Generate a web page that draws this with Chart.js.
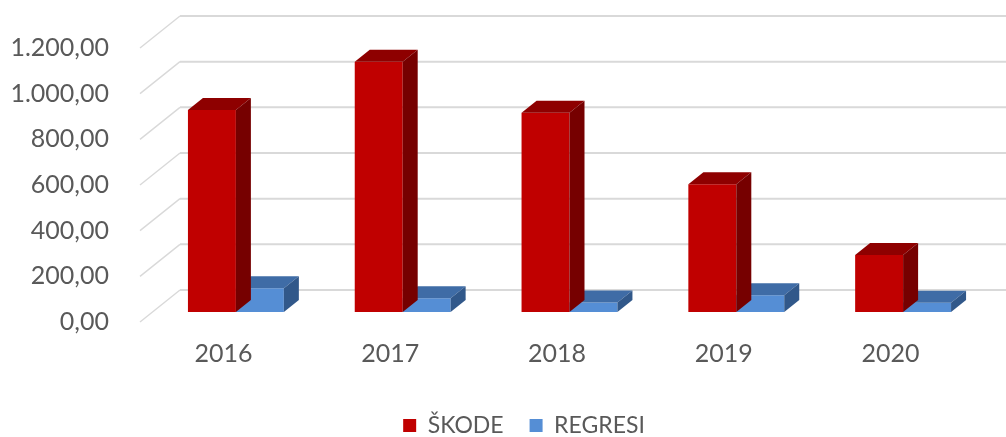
<!DOCTYPE html>
<html>
<head>
<meta charset="utf-8">
<script src="https://cdn.jsdelivr.net/npm/chart.js@4.4.1/dist/chart.umd.min.js"></script>
<style>
  html, body { margin: 0; padding: 0; background: #ffffff; }
  #wrap { width: 1006px; height: 437px; }
</style>
</head>
<body>
<div id="wrap"><canvas id="chart" width="1006" height="437"></canvas></div>
<script>
// Yearly totals
const years = ['2016', '2017', '2018', '2019', '2020'];
const skode = [885, 1096, 873, 560, 250];
const regresi = [104, 60, 42, 73, 41];
const yTicks = [0, 200, 400, 600, 800, 1000, 1200];

const seriesNames = ['ŠKODE', 'REGRESI'];
const frontColors = ['#C00000', '#558ED5'];
const topColors = ['#8E0000', '#3F6CA6'];
const sideColors = ['#760000', '#31588A'];

// Oblique projection: depth direction of the floor / back wall
const WALL_DX = 40, WALL_DY = 32;     // full floor depth
const BAR_Z = 10;                     // bars start this far into the floor
const BAR_DX = 15, BAR_DY = 12;       // bar thickness in depth
const LEGEND_SHIFT = 37;              // legend sits centred under the plot

function fmt(v) {
  const int = Math.floor(Math.abs(v)).toString().replace(/\B(?=(\d{3})+(?!\d))/g, '.');
  const dec = Math.round((Math.abs(v) % 1) * 100).toString().padStart(2, '0');
  return (v < 0 ? '-' : '') + int + ',' + dec;
}

const axisFont = { family: 'Lato', size: 25 };
const gray = '#595959';

const threeD = {
  id: 'threeD',
  afterLayout(chart) {
    const lg = chart.legend;
    if (lg) { lg.left += LEGEND_SHIFT; lg.right += LEGEND_SHIFT; }
  },
  beforeDatasetsDraw(chart) {
    const ctx = chart.ctx;
    const y = chart.scales.y;
    const left = chart.chartArea.left;
    ctx.save();
    ctx.strokeStyle = '#D9D9D9';
    yTicks.forEach(v => {
      const py = y.getPixelForValue(v);
      ctx.lineWidth = 1.5;
      ctx.beginPath();
      ctx.moveTo(left, py);
      ctx.lineTo(left + WALL_DX, py - WALL_DY);
      ctx.stroke();
      ctx.lineWidth = 2;
      ctx.beginPath();
      ctx.moveTo(left + WALL_DX, py - WALL_DY);
      ctx.lineTo(chart.width, py - WALL_DY);
      ctx.stroke();
    });
    ctx.restore();
  },
  beforeDatasetDraw(chart) {
    chart.ctx.save();
    chart.ctx.translate(BAR_Z * WALL_DX / WALL_DY, -BAR_Z);
  },
  afterDatasetDraw(chart, args) {
    const ctx = chart.ctx;
    const i = args.index;
    const meta = chart.getDatasetMeta(i);
    meta.data.forEach(bar => {
      const p = bar.getProps(['x', 'y', 'base', 'width'], true);
      const xl = p.x - p.width / 2, xr = p.x + p.width / 2;
      const yt = Math.min(p.y, p.base), yb = Math.max(p.y, p.base);
      // top face
      ctx.fillStyle = topColors[i];
      ctx.beginPath();
      ctx.moveTo(xl, yt);
      ctx.lineTo(xr, yt);
      ctx.lineTo(xr + BAR_DX, yt - BAR_DY);
      ctx.lineTo(xl + BAR_DX, yt - BAR_DY);
      ctx.closePath();
      ctx.fill();
      // right side face
      ctx.fillStyle = sideColors[i];
      ctx.beginPath();
      ctx.moveTo(xr, yt);
      ctx.lineTo(xr + BAR_DX, yt - BAR_DY);
      ctx.lineTo(xr + BAR_DX, yb - BAR_DY);
      ctx.lineTo(xr, yb);
      ctx.closePath();
      ctx.fill();
    });
    ctx.restore();
  }
};

new Chart(document.getElementById('chart'), {
  type: 'bar',
  data: {
    labels: years,
    datasets: [
      { label: seriesNames[0], data: skode, backgroundColor: frontColors[0], borderWidth: 0 },
      { label: seriesNames[1], data: regresi, backgroundColor: frontColors[1], borderWidth: 0 }
    ]
  },
  options: {
    responsive: false,
    animation: false,
    events: [],
    layout: { padding: { left: 0, right: 32, top: 48, bottom: -10 } },
    datasets: { bar: { categoryPercentage: 0.575, barPercentage: 1.0, clip: false } },
    scales: {
      x: {
        grid: { display: false, drawTicks: false },
        border: { display: false },
        ticks: { color: gray, font: axisFont, padding: 17 },
        afterFit(s) { s.height = 66; }
      },
      y: {
        min: 0,
        max: 1200,
        afterBuildTicks(s) { s.ticks = yTicks.map(v => ({ value: v })); },
        grid: { display: false, drawTicks: false },
        border: { display: false },
        ticks: { color: gray, font: axisFont, padding: 31, callback: v => fmt(v) },
        afterFit(s) { s.width = 140; }
      }
    },
    plugins: {
      legend: {
        position: 'bottom',
        labels: {
          color: gray,
          font: { family: 'Lato', size: 23 },
          boxWidth: 13,
          boxHeight: 13,
          padding: 26
        }
      },
      tooltip: { enabled: false }
    }
  },
  plugins: [threeD]
});
</script>
</body>
</html>
